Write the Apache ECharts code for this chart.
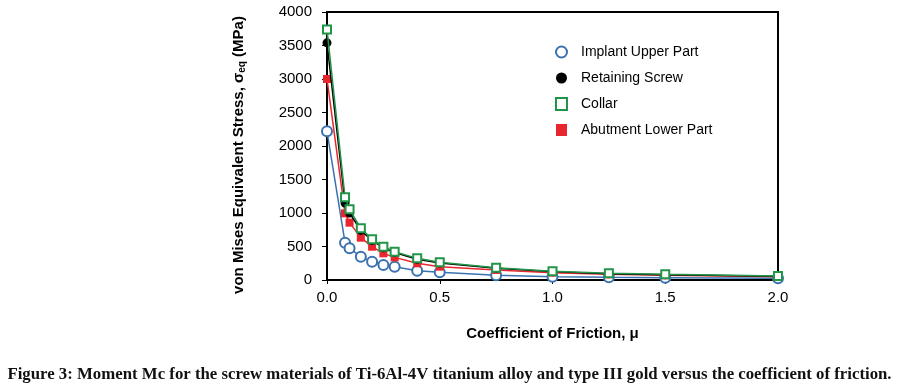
<!DOCTYPE html>
<html>
<head>
<meta charset="utf-8">
<script src="https://cdn.jsdelivr.net/npm/echarts@6/dist/echarts.min.js"></script>
<style>
  html, body { margin: 0; padding: 0; background: #fff; }
  #main { width: 899px; height: 390px; }
</style>
</head>
<body>
<div id="main"></div>
<script>
// coefficient of friction values
var mu = [0, 0.08, 0.1, 0.15, 0.2, 0.25, 0.3, 0.4, 0.5, 0.75, 1.0, 1.25, 1.5, 2.0];
// von Mises stress (MPa)
var implantUpper = [2220, 557, 473, 348, 273, 224, 199, 139, 115, 70, 50, 40, 35, 25];
var retainingScrew = [3540, 1150, 1000, 740, 590, 480, 410, 310, 255, 175, 125, 95, 80, 55];
var collar = [3740, 1234, 1055, 771, 607, 497, 423, 323, 264, 184, 130, 100, 85, 60];
var abutmentLower = [3000, 995, 856, 632, 497, 398, 338, 249, 199, 150, 110, 85, 70, 50];
var xTicks = [0, 0.5, 1.0, 1.5, 2.0];
var yTicks = [0, 500, 1000, 1500, 2000, 2500, 3000, 3500, 4000];

function pairs(vals) {
    return mu.map(function (m, i) { return [m, vals[i]]; });
}

var myChart = echarts.init(document.getElementById('main'));
var font = 'Liberation Sans, Arial, sans-serif';

var option = {
    animation: false,
    grid: {
        left: 327,
        right: 121,
        top: 12,
        bottom: 110,
        show: true,
        borderColor: '#000',
        borderWidth: 2,
        backgroundColor: '#fff'
    },
    xAxis: {
        type: 'value',
        min: xTicks[0],
        max: xTicks[xTicks.length - 1],
        interval: 0.5,
        name: 'Coefficient of Friction, μ',
        nameLocation: 'middle',
        nameGap: 46,
        nameTextStyle: { fontFamily: font, fontSize: 15, fontWeight: 'bold', color: '#000' },
        axisLine: { show: true, lineStyle: { color: '#000', width: 2 } },
        axisTick: { show: true, length: 4, lineStyle: { color: '#000' } },
        splitLine: { show: false },
        axisLabel: {
            fontFamily: font, fontSize: 15, color: '#000', margin: 10,
            formatter: function (v) { return v.toFixed(1); }
        }
    },
    yAxis: {
        type: 'value',
        min: yTicks[0],
        max: yTicks[yTicks.length - 1],
        interval: 500,
        name: '{n|von Mises Equivalent Stress, σ}{s|eq}{n| (MPa)}',
        nameLocation: 'middle',
        nameGap: 80,
        nameTextStyle: {
            padding: [0, 0, 0, -18],
            rich: {
                n: { fontFamily: font, fontSize: 15, fontWeight: 'bold', color: '#000' },
                s: { fontFamily: font, fontSize: 10, fontWeight: 'bold', color: '#000', verticalAlign: 'bottom', padding: [6, 0, 0, 0] }
            }
        },
        axisLine: { show: true, lineStyle: { color: '#000', width: 2 } },
        axisTick: { show: true, length: 5, lineStyle: { color: '#000' } },
        splitLine: { show: false },
        axisLabel: {
            fontFamily: font, fontSize: 15, color: '#000', margin: 15,
            formatter: function (v) { return String(v); }
        }
    },
    legend: {
        orient: 'vertical',
        left: 550,
        top: 40,
        itemGap: 12,
        itemWidth: 11,
        itemHeight: 12,
        textStyle: { fontFamily: font, fontSize: 14, color: '#000', padding: [0, 0, 0, 9] },
        data: [
            { name: 'Implant Upper Part', icon: 'circle', itemStyle: { color: '#fff', borderColor: '#3a72b0', borderWidth: 2 } },
            { name: 'Retaining Screw', icon: 'circle', itemStyle: { color: '#000', borderWidth: 0 } },
            { name: 'Collar', icon: 'rect', itemStyle: { color: '#fff', borderColor: '#22954a', borderWidth: 2 } },
            { name: 'Abutment Lower Part', icon: 'rect', itemStyle: { color: '#e8262d', borderWidth: 0 } }
        ]
    },
    series: [
        {
            name: 'Implant Upper Part',
            type: 'line',
            data: pairs(implantUpper),
            symbol: 'circle',
            symbolSize: 10,
            z: 2,
            lineStyle: { color: '#3a72b0', width: 1.5 },
            itemStyle: { color: '#fff', borderColor: '#3a72b0', borderWidth: 2 }
        },
        {
            name: 'Abutment Lower Part',
            type: 'line',
            data: pairs(abutmentLower),
            symbol: 'rect',
            symbolSize: 8,
            z: 3,
            lineStyle: { color: '#e8262d', width: 1.5 },
            itemStyle: { color: '#e8262d', borderWidth: 0 }
        },
        {
            name: 'Retaining Screw',
            type: 'line',
            data: pairs(retainingScrew),
            symbol: 'circle',
            symbolSize: 9,
            z: 4,
            lineStyle: { color: '#000', width: 1.5 },
            itemStyle: { color: '#000', borderWidth: 0 }
        },
        {
            name: 'Collar',
            type: 'line',
            data: pairs(collar),
            symbol: 'rect',
            symbolSize: 8,
            z: 5,
            lineStyle: { color: '#22954a', width: 1.5 },
            itemStyle: { color: '#fff', borderColor: '#22954a', borderWidth: 2 }
        }
    ],
    graphic: [
        {
            type: 'text',
            left: 'center',
            top: 366,
            style: {
                text: 'Figure 3: Moment Mc for the screw materials of Ti-6Al-4V titanium alloy and type III gold versus the coefficient of friction.',
                font: 'bold 16.8px "Liberation Serif", "DejaVu Serif", serif',
                fill: '#111'
            }
        }
    ]
};
myChart.setOption(option);
</script>
</body>
</html>
